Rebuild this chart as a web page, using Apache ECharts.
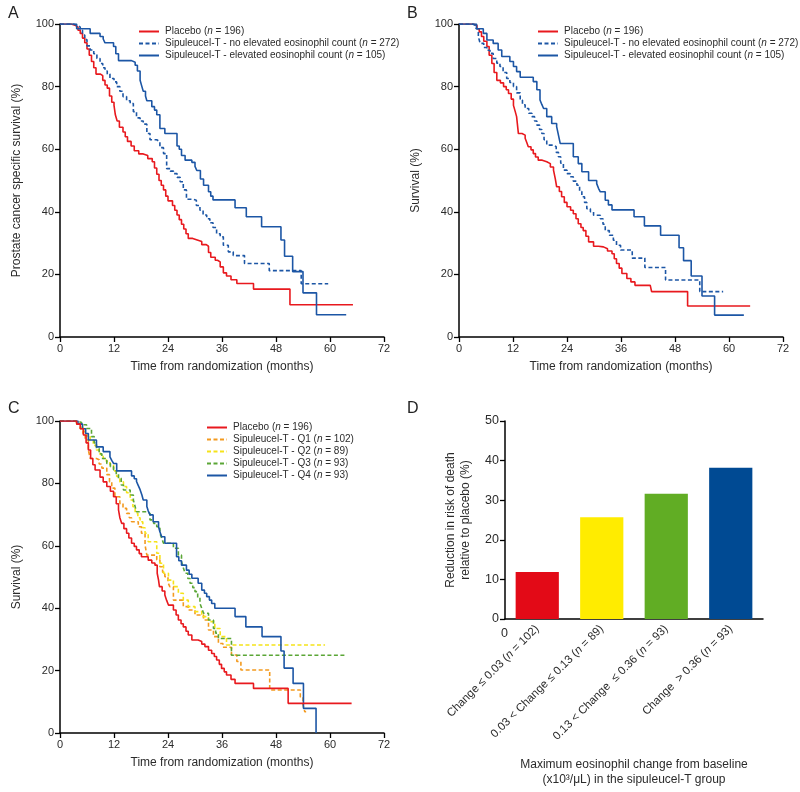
<!DOCTYPE html>
<html>
<head>
<meta charset="utf-8">
<script src="https://cdn.jsdelivr.net/npm/echarts@6/dist/echarts.min.js"></script>
<style>
html, body { margin: 0; background: #fff; }
#chart { width: 800px; height: 792px; }
</style>
</head>
<body>
<div id="chart"></div>
<script>
// Kaplan-Meier curves, [month, survival %] at each step
const placeboA = [[0,100],[2.5,99.5],[3.5,99],[4,98],[4.5,97],[5,95.5],[5.5,94],[6,92],[6.5,90],[7,88],[7.5,86],[8,84],[9,83.5],[9.5,82],[10,80.5],[10.5,79.5],[11,77],[11.5,75],[12,74],[12.3,71],[12.7,69],[13.2,67],[14,65.5],[14.5,64],[15,62.5],[15.8,61],[16.5,59.5],[17.5,58.5],[18.5,58],[19.5,57],[20.5,56],[21,54],[21.5,52],[22,50],[22.5,48.5],[23,47],[23.5,45],[24,43.5],[25,42],[25.5,40.5],[26,39],[26.5,37.5],[27,36],[27.5,34.5],[28,33],[28.5,31.5],[29.5,31],[30.5,30.5],[31.5,29.5],[32.5,29],[33,27],[33.5,25.5],[34.5,24.5],[35,24],[35.6,22.4],[36.3,20.5],[37,19.5],[38,18.3],[39.3,17.1],[43,15.3],[51.1,10.3],[65.1,10.3]];
const noElevA = [[0,100],[3,99.5],[4,99],[4.5,98],[5,96.5],[5.5,95],[6,93],[6.7,91.7],[7.5,90.5],[8.2,89],[8.9,87.4],[9.5,86],[10,85],[10.5,84],[11.1,82.6],[12,81.5],[12.6,80],[13.3,78.5],[14,76.8],[14.8,75.5],[15.6,74.6],[16.3,72],[17,70],[17.8,69],[18.5,68],[19.3,65],[20,63],[21.5,62.4],[22.2,60.5],[23,58.6],[23.7,53.8],[24.5,53],[25.2,52.2],[26,51],[26.7,49.6],[27.4,47],[28.1,44],[29.6,43.7],[30.3,42],[31.1,40.5],[31.8,39],[32.6,37.8],[33.3,36.5],[34,35],[34.8,33],[35.6,32],[36.3,29.3],[37.4,27.2],[38.5,26],[41,23.5],[46.5,21.2],[53.6,17],[59.6,17]];
const elevA = [[0,100],[3.7,98.5],[6.7,97],[8.9,96],[9.6,95.2],[10,94],[11.9,92.8],[12.4,90.5],[13,88.3],[15.9,87.8],[16.7,86.8],[17.2,85],[17.8,82],[18.2,80],[18.5,78.5],[19,77],[19.3,75.5],[20.4,73.6],[21,72.5],[21.5,71],[22.2,66.6],[23.3,65],[26,61],[26.5,60],[27,58],[27.8,56.5],[29.3,55.8],[30,54.5],[30.4,53.2],[31.2,50.5],[31.9,48.5],[33,46.4],[33.5,45],[34,43.8],[38.9,41.3],[41.4,38.4],[44.8,35.2],[49.1,31],[49.9,25.8],[51.7,20.9],[54,14.1],[57,7.1],[63.6,7.1]];

const placeboB = [[0,100],[3.2,99.5],[4,98.5],[4.5,97.5],[5,96],[5.5,94.5],[6.2,92.8],[6.7,90],[7.3,87.4],[7.8,84.5],[8.4,82],[9.2,81.2],[9.9,80],[10.5,79],[11,77.8],[11.6,76],[12.1,74],[12.5,72],[12.8,70.4],[13.2,65],[14,64.5],[14.7,63.5],[15.1,62],[15.4,60.8],[16,59.8],[16.5,58.6],[17,57.5],[17.6,56.5],[18.5,56],[19.5,55.4],[20.3,54.3],[21,53.3],[21.4,50.5],[21.7,48],[22.3,46.5],[22.8,44.8],[23.4,43],[24,41.6],[24.8,40.5],[25.4,39.4],[26,37.8],[26.5,36.2],[27.1,35],[27.6,34],[28.2,32.2],[28.8,30.4],[29.9,29],[31,28.8],[32.1,28.2],[33,27.5],[34,26.6],[34.5,25],[35,23.5],[35.6,22],[36.2,20.3],[37.3,18.7],[38.2,17.6],[39.1,16.5],[42.5,15.9],[42.8,14.5],[50.8,9.9],[64.7,9.9]];
const noElevB = [[0,100],[3,99.5],[3.8,98.5],[4.3,96],[4.7,93.8],[5.5,92.5],[6.2,91.6],[6.9,90.6],[7.6,89],[8.4,87.5],[9.1,86.4],[9.8,84.5],[10.6,82.6],[11.3,81.3],[12.1,80],[12.8,78],[13.6,75.7],[14.1,74.2],[14.7,73],[15.5,71.5],[16.2,70.4],[16.8,69],[17.3,67.7],[17.9,66.3],[18.4,65],[18.9,63],[19.5,61.3],[21,60.8],[21.6,59],[22.1,57.6],[22.6,55.5],[23.2,53.3],[24,52.2],[24.7,51.2],[25.4,49.8],[26.2,48.5],[26.8,46.5],[27.3,44.8],[27.9,43],[28.4,41],[29.2,40],[29.9,38.9],[31.4,37.8],[32,36],[32.5,34],[33.4,32.5],[34.3,30.9],[35,29.3],[35.9,27.8],[38.5,25.2],[41.3,22.2],[45.9,18.2],[53.5,14.5],[58.7,14.5]];
const elevB = [[0,100],[3.9,98.5],[5.4,97],[6.2,94.9],[7.6,93.8],[8.7,91.7],[9.5,89.6],[11.3,88],[12.1,86.4],[12.8,84.8],[13.6,83],[16.5,81.6],[17.3,79],[18,75.7],[18.4,74.3],[18.8,73],[19.5,70.4],[20.6,68.2],[21.7,67.2],[22.1,64.5],[22.5,61.8],[25.4,57.6],[26.5,55.4],[27.3,52.8],[28.8,50],[30.6,49],[31,47.5],[31.4,46.4],[32.5,43.7],[33.2,42.2],[34,40.6],[38.9,38.4],[41.2,35.5],[44.8,32.5],[48.9,28.5],[49.9,24.4],[51.6,19.5],[54,13.1],[56.8,7],[63.3,7]];

const placeboC = [[0,100],[3.7,99],[4.5,97.5],[5.2,95.5],[5.8,93],[6.3,90.7],[6.8,88],[7.3,86],[7.8,84.3],[8.9,82],[9.6,80.5],[10.4,79],[11.2,77.5],[11.9,75.7],[12.5,73.5],[13,71.5],[13.3,69],[13.7,67.2],[14.2,65.5],[14.8,64],[15.3,62.5],[15.9,60.8],[16.5,59.8],[17,58.7],[17.6,57.5],[18.1,56.5],[19.6,55.4],[20.4,54.5],[21.1,53.8],[21.6,51.2],[21.9,49],[22.1,46.9],[22.7,45.5],[23.3,44.2],[23.7,42.5],[24.1,41],[25.2,39.4],[25.8,37.8],[26.3,36.2],[26.9,35],[27.4,34],[28,32.6],[28.5,31.4],[29.3,29.8],[30.7,29.3],[31.5,28.5],[32.2,27.7],[33,26.5],[33.7,25.5],[34.3,24.5],[34.8,23.4],[35.4,22],[35.9,20.7],[36.5,19.6],[37,18.6],[38,17.2],[38.9,15.9],[43,14.3],[50.7,9.5],[64.8,9.5]];
const q1C = [[0,100],[3.5,99],[4.5,97.5],[5.1,96],[5.6,93.9],[6.3,90.7],[6.7,88],[8.1,87.6],[8.7,86.2],[9.3,84.9],[10.4,82.8],[11,80.5],[11.5,78.5],[12.2,75.7],[13.3,73.6],[14,72],[14.8,70.4],[15.4,69],[15.9,67.7],[17.4,66.1],[18.1,64],[18.9,60.2],[19.3,57],[21.5,55.5],[22.2,53.3],[22.8,51.5],[23.3,50.1],[24,48.2],[24.4,46.9],[25.2,42.6],[27.4,40.5],[28.5,39.4],[30,37.8],[31.9,36.2],[33,33],[34.1,30.9],[35.2,28.7],[36.2,27.5],[38.1,25],[39.3,22.9],[40.2,20.2],[46.6,13.8],[53.4,11.5],[54,9],[54.4,6.8],[54.7,6.8]];
const q2C = [[0,100],[3.5,99],[4.5,98],[5.2,96.6],[6,95.2],[6.7,93.9],[7.4,92.2],[8.1,90.7],[8.9,89.3],[9.6,88],[10.3,87],[11.1,85.9],[11.9,84],[12.6,82.2],[13.3,80.5],[14.1,79],[14.8,77],[15.6,74.7],[16.2,72.5],[16.7,70.4],[17.3,69],[17.8,67.7],[18.4,65.8],[18.9,64],[19.6,61.3],[21.5,57.6],[22.2,54.4],[23,51.2],[24.1,49],[25.2,46.9],[26.3,44.8],[27.4,42.6],[28.5,40.5],[30,38.9],[31.5,37.3],[33,35.7],[34.4,33.5],[35.6,30.9],[37,28.2],[58.9,28.2]];
const q3C = [[0,100],[3.8,99.5],[4.8,98.8],[5.9,97.6],[7,95],[7.6,93],[8.1,91.2],[8.7,89.5],[9.3,88],[10.4,86.4],[11.2,85.3],[11.9,84.3],[12.5,83],[13,81.6],[13.6,79.5],[14.1,77.9],[15.6,76.3],[16.3,74.7],[16.7,72.5],[17,70.9],[19.3,70.4],[20,68.3],[20.8,67.2],[21.5,66.1],[22.2,64],[22.6,62.4],[23,60.8],[25.2,59.2],[26.3,57],[27,54.9],[27.4,53],[27.8,51.2],[28.4,49.5],[28.9,48],[29.5,46.6],[30,45.3],[30.6,43.4],[31.1,41.5],[31.5,40],[31.9,38.4],[33,36.2],[34.1,33.5],[34.6,32],[35.2,30.3],[38.1,24.9],[63.2,24.9]];
const q4C = [[0,100],[4,99],[5,97.5],[5.7,96],[6.3,93.9],[8.1,91.7],[9.6,90.2],[11.1,88.5],[11.5,87.4],[11.9,86.4],[12.6,84],[15.9,82.4],[16.5,81.5],[17,80.6],[17.4,79.3],[17.8,78],[18.2,76.3],[18.5,74.7],[19.3,72.6],[19.6,71.2],[20,69.9],[20.7,67.7],[21.9,66.1],[22.2,64.5],[22.6,62.9],[23.3,60.8],[25.9,56.5],[26.4,55.2],[27,53.8],[28.1,52.2],[28.7,50.9],[29.3,49.6],[30.7,48],[31.5,45.8],[32.1,44.8],[32.6,43.7],[33.2,42.6],[33.7,41.5],[34.4,40],[38.9,37.3],[41.3,34],[44.9,30.9],[49.1,26.3],[49.8,20.8],[51.8,15.9],[54.1,7.9],[56.9,0]];

// panel D bars
const groupsD = ['Change \u2264 0.03 (n = 102)', '0.03 < Change \u2264 0.13 (n = 89)', '0.13 < Change  \u2264 0.36 (n = 93)', 'Change  > 0.36 (n = 93)'];
const reductionD = [11.9, 25.7, 31.6, 38.2];
const barColorsD = ['#e30a17', '#ffec00', '#61ad24', '#004a93'];

const FONT = 'Liberation Sans, Arial, Helvetica, sans-serif';
const INK = '#2b2b2b';
const RED = '#e8191e', BLUE = '#1c56a5', ORANGE = '#f39a1f', YELLOW = '#f5e31a', GREEN = '#5ba636';

const namePlacebo = 'Placebo (n = 196)';
const nameNoElev = 'Sipuleucel-T - no elevated eosinophil count (n = 272)';
const nameElev = 'Sipuleucel-T - elevated eosinophil count (n = 105)';
const nameQ = ['Sipuleucel-T - Q1 (n = 102)', 'Sipuleucel-T - Q2 (n = 89)', 'Sipuleucel-T - Q3 (n = 93)', 'Sipuleucel-T - Q4 (n = 93)'];

const italicN = s => s.replace('(n =', '({i|n} =');

function timeAxis(idx) {
  return {
    type: 'value', gridIndex: idx, min: 0, max: 72, interval: 12,
    name: 'Time from randomization (months)', nameLocation: 'middle', nameGap: 24,
    nameTextStyle: { fontFamily: FONT, fontSize: 12, color: INK },
    axisLine: { lineStyle: { color: '#000', width: 1.5 } },
    axisTick: { length: 5, lineStyle: { color: '#000', width: 1.3 } },
    axisLabel: { fontFamily: FONT, fontSize: 11, color: INK, margin: 6 },
    splitLine: { show: false }
  };
}
function survAxis(idx, name) {
  return {
    type: 'value', gridIndex: idx, min: 0, max: 100, interval: 20,
    name: name, nameLocation: 'middle', nameGap: 37,
    nameTextStyle: { fontFamily: FONT, fontSize: 12, color: INK },
    axisLine: { show: true, lineStyle: { color: '#000', width: 1.5 } },
    axisTick: { show: true, length: 5, lineStyle: { color: '#000', width: 1.3 } },
    axisLabel: { fontFamily: FONT, fontSize: 11, color: INK, margin: 6 },
    splitLine: { show: false }
  };
}
function km(name, data, color, dashed, idx) {
  return {
    type: 'line', name: name, data: data, step: 'end',
    xAxisIndex: idx, yAxisIndex: idx, symbol: 'none', animation: false,
    lineStyle: { color: color, width: 1.6, type: dashed ? [4, 2.5] : 'solid' },
    itemStyle: { color: color }
  };
}
function legendAt(left, top, names) {
  return {
    orient: 'vertical', left: left, top: top, data: names,
    itemWidth: 20, itemHeight: 10, itemGap: 1, selectedMode: false,
    itemStyle: { opacity: 0 },
    formatter: italicN,
    textStyle: { fontFamily: FONT, fontSize: 10, lineHeight: 11, color: INK, padding: [0, 0, 0, 1],
      rich: { i: { fontFamily: FONT, fontSize: 10, lineHeight: 11, fontStyle: 'italic', color: INK } } }
  };
}
function letter(text, x, y) {
  return { type: 'text', left: x, top: y, style: { text: text, fontFamily: FONT, fontSize: 16, fill: '#222' } };
}

const chart = echarts.init(document.getElementById('chart'));
chart.setOption({
  backgroundColor: '#fff',
  animation: false,
  grid: [
    { left: 60, right: 416, top: 24, bottom: 455 },
    { left: 459, right: 17, top: 24, bottom: 455 },
    { left: 60, right: 416, top: 421, bottom: 59 },
    { left: 505, right: 37, top: 421, bottom: 173 }
  ],
  legend: [
    legendAt(133, 21, [namePlacebo, nameNoElev, nameElev]),
    legendAt(532, 21, [namePlacebo, nameNoElev, nameElev]),
    legendAt(201, 417, [namePlacebo].concat(nameQ))
  ],
  xAxis: [
    timeAxis(0), timeAxis(1), timeAxis(2),
    {
      type: 'category', gridIndex: 3, data: groupsD,
      name: 'Maximum eosinophil change from baseline\n(x10\u00b3/\u03bcL) in the sipuleucel-T group',
      nameLocation: 'middle', nameGap: 138,
      nameTextStyle: { fontFamily: FONT, fontSize: 12, color: INK, lineHeight: 15 },
      axisLine: { lineStyle: { color: '#000', width: 1.5 } },
      axisTick: { alignWithLabel: true, length: 5, lineStyle: { color: '#000', width: 1.3 } },
      axisLabel: { interval: 0, rotate: 45, fontFamily: FONT, fontSize: 11.5, color: INK, margin: 8,
        formatter: italicN,
        rich: { i: { fontFamily: FONT, fontSize: 11.5, fontStyle: 'italic', color: INK } } }
    }
  ],
  yAxis: [
    survAxis(0, 'Prostate cancer specific survival (%)'),
    survAxis(1, 'Survival (%)'),
    survAxis(2, 'Survival (%)'),
    {
      type: 'value', gridIndex: 3, min: 0, max: 50, interval: 10,
      name: 'Reduction in risk of death\nrelative to placebo (%)', nameLocation: 'middle', nameGap: 32,
      nameTextStyle: { fontFamily: FONT, fontSize: 12, color: INK, lineHeight: 15 },
      axisLine: { show: true, lineStyle: { color: '#000', width: 1.5 } },
      axisTick: { show: true, length: 5, lineStyle: { color: '#000', width: 1.3 } },
      axisLabel: { fontFamily: FONT, fontSize: 12.5, color: INK, margin: 6 },
      splitLine: { show: false }
    }
  ],
  series: [
    km(namePlacebo, placeboA, RED, false, 0),
    km(nameNoElev, noElevA, BLUE, true, 0),
    km(nameElev, elevA, BLUE, false, 0),
    km(namePlacebo, placeboB, RED, false, 1),
    km(nameNoElev, noElevB, BLUE, true, 1),
    km(nameElev, elevB, BLUE, false, 1),
    km(nameQ[0], q1C, ORANGE, true, 2),
    km(nameQ[1], q2C, YELLOW, true, 2),
    km(nameQ[2], q3C, GREEN, true, 2),
    km(nameQ[3], q4C, BLUE, false, 2),
    km(namePlacebo, placeboC, RED, false, 2),
    {
      type: 'bar', name: 'reduction', xAxisIndex: 3, yAxisIndex: 3, barWidth: '67%',
      data: reductionD.map((v, i) => ({ value: v, itemStyle: { color: barColorsD[i] } }))
    }
  ],
  graphic: [
    letter('A', 8, 6), letter('B', 407, 6), letter('C', 8, 401), letter('D', 407, 401),
    { type: 'text', left: 501, top: 627, style: { text: '0', fontFamily: FONT, fontSize: 12.5, fill: INK } }
  ]
});
</script>
</body>
</html>
